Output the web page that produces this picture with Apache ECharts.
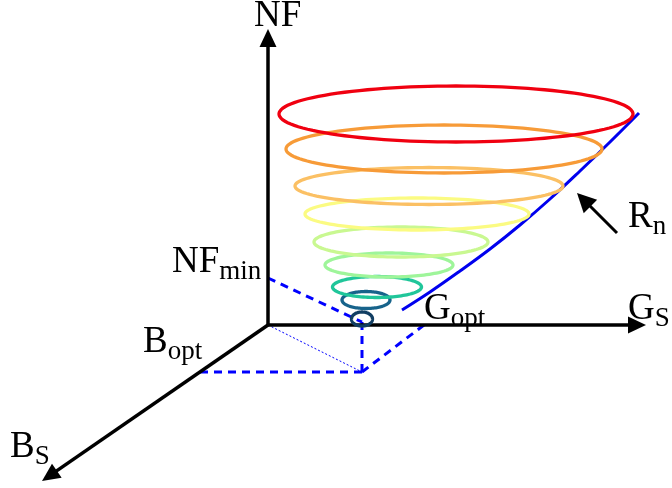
<!DOCTYPE html>
<html>
<head>
<meta charset="utf-8">
<script src="https://cdn.jsdelivr.net/npm/echarts@6/dist/echarts.min.js"></script>
<style>
  html, body { margin: 0; padding: 0; background: #ffffff; }
  #chart { width: 672px; height: 488px; }
</style>
</head>
<body>
<div id="chart"></div>
<script>
// Diagram units: G runs left→right, NF runs top→bottom (inverted axis).

// Constant-noise circles, smallest (NF_min) to largest
const circleCenterG  = [362, 366, 377, 389, 401, 417, 429, 444, 456];
const circleCenterNF = [319, 300, 287, 265, 242, 214, 186, 149, 114];
const circleRadiusG  = [10.5, 24, 44.5, 64, 87, 112, 134, 158, 177];
const circleRadiusNF = [7, 8.5, 10.5, 12, 15, 16, 18.5, 24, 28];
const circleColors   = ['#113e62', '#17638b', '#20c69a', '#9ef59a', '#c9f891',
                        '#fbfb82', '#fbc064', '#f79b38', '#f00010'];

// Envelope traced by the circles as R_n grows
const envelopeG  = [402, 430, 460, 490, 520, 550, 580, 610, 639];
const envelopeNF = [310, 292, 271, 249, 225, 199, 171, 142, 113];

// Axes: common origin and arrow tips
const origin = [268, 325];
const axisTipNF = [268, 29];
const axisTipG  = [646, 325];
const axisTipB  = [42, 481];

// Optimum point and its projections
const optPoint   = [362, 372];   // (B_opt, G_opt) on the source-plane floor
const nfMinPoint = [268, 278];   // NF_min on the NF axis
const nfMinTop   = [362, 322];   // bottom of the smallest circle
const bOptPoint  = [200, 372];   // B_opt on the B_S axis
const gOptPoint  = [424, 325];   // G_opt on the G_S axis

// R_n pointer (tail, tip)
const rnPointer = [[617, 233], [577, 193]];

// Text labels
const labelMain = ['NF', 'NF', 'B', 'G', 'G', 'R', 'B'];
const labelSub  = ['', 'min', 'opt', 'opt', 'S', 'n', 'S'];
const labelX    = [254, 172, 143, 424, 628, 628, 10];
const labelBase = [29, 275, 355, 322, 322, 230, 460];

const FONT = '"Liberation Serif", "Times New Roman", serif';
const MAIN_SIZE = 37, SUB_SIZE = 27;

const measureCtx = document.createElement('canvas').getContext('2d');
function textWidth(t, size) {
  measureCtx.font = size + 'px ' + FONT;
  return measureCtx.measureText(t).width;
}

const chart = echarts.init(document.getElementById('chart'), null, { renderer: 'canvas' });

function ellipseItem(params, api) {
  const cx = api.value(0), cy = api.value(1), rx = api.value(2), ry = api.value(3);
  const pts = [];
  const n = 120;
  for (let k = 0; k < n; k++) {
    const t = k / n * 2 * Math.PI;
    pts.push(api.coord([cx + rx * Math.cos(t), cy + ry * Math.sin(t)]));
  }
  return {
    type: 'polygon',
    shape: { points: pts },
    style: { fill: 'none', stroke: circleColors[params.dataIndex], lineWidth: 3.3 }
  };
}

function arrowItem(headLen, headHalf, width) {
  return function (params, api) {
    const p0 = api.coord([api.value(0), api.value(1)]);
    const p1 = api.coord([api.value(2), api.value(3)]);
    const dx = p1[0] - p0[0], dy = p1[1] - p0[1];
    const L = Math.sqrt(dx * dx + dy * dy);
    const ux = dx / L, uy = dy / L;
    const bx = p1[0] - ux * headLen, by = p1[1] - uy * headLen;
    const nx = -uy, ny = ux;
    return {
      type: 'group',
      children: [
        { type: 'line', shape: { x1: p0[0], y1: p0[1], x2: bx + ux * 2, y2: by + uy * 2 },
          style: { stroke: '#000', lineWidth: width } },
        { type: 'polygon',
          shape: { points: [[p1[0], p1[1]], [bx + nx * headHalf, by + ny * headHalf], [bx - nx * headHalf, by - ny * headHalf]] },
          style: { fill: '#000' } }
      ]
    };
  };
}

function labelItem(params, api) {
  const i = params.dataIndex;
  const p = api.coord([labelX[i], labelBase[i]]);
  const children = [{
    type: 'text',
    style: { text: labelMain[i], x: p[0], y: p[1] - MAIN_SIZE * 0.34, font: MAIN_SIZE + 'px ' + FONT,
             fill: '#000', align: 'left', verticalAlign: 'middle' }
  }];
  if (labelSub[i]) {
    children.push({
      type: 'text',
      style: { text: labelSub[i], x: p[0] + textWidth(labelMain[i], MAIN_SIZE), y: p[1] + 6 - SUB_SIZE * 0.34,
               font: SUB_SIZE + 'px ' + FONT, fill: '#000', align: 'left', verticalAlign: 'middle' }
    });
  }
  return { type: 'group', children: children };
}

function dashed(a, b) {
  return {
    type: 'line', data: [a, b], symbol: 'none', silent: true, z: 2,
    lineStyle: { color: '#0000ff', width: 3, type: [8, 6] }
  };
}

const option = {
  animation: false,
  grid: { left: 0, right: 0, top: 0, bottom: 0 },
  xAxis: { type: 'value', min: 0, max: 672, show: false },
  yAxis: { type: 'value', min: 0, max: 488, inverse: true, show: false },
  series: [
    // projection guides
    dashed(nfMinPoint, nfMinTop),
    dashed(nfMinTop, optPoint),
    dashed(bOptPoint, optPoint),
    dashed(optPoint, gOptPoint),
    {
      type: 'line', data: [origin, optPoint], symbol: 'none', silent: true, z: 2,
      lineStyle: { color: '#0000ff', width: 1, type: [2, 2] }
    },
    // axes with arrow heads
    {
      type: 'custom', z: 3,
      renderItem: arrowItem(18, 8.5, 3.5),
      data: [
        [origin[0], origin[1], axisTipNF[0], axisTipNF[1]],
        [origin[0], origin[1], axisTipG[0], axisTipG[1]],
        [origin[0], origin[1], axisTipB[0], axisTipB[1]]
      ]
    },
    // envelope curve
    {
      type: 'line', z: 4, symbol: 'none', smooth: 0.4, silent: true,
      data: envelopeG.map((g, i) => [g, envelopeNF[i]]),
      lineStyle: { color: '#0000ee', width: 3 }
    },
    // noise circles
    {
      type: 'custom', z: 5,
      renderItem: ellipseItem,
      data: circleCenterG.map((g, i) => [g, circleCenterNF[i], circleRadiusG[i], circleRadiusNF[i]])
    },
    // R_n pointer
    {
      type: 'custom', z: 6,
      renderItem: arrowItem(19, 9.5, 3),
      data: [[rnPointer[0][0], rnPointer[0][1], rnPointer[1][0], rnPointer[1][1]]]
    },
    // labels
    {
      type: 'custom', z: 7,
      renderItem: labelItem,
      data: labelMain.map((t, i) => [labelX[i], labelBase[i]])
    }
  ]
};

chart.setOption(option);
</script>
</body>
</html>
